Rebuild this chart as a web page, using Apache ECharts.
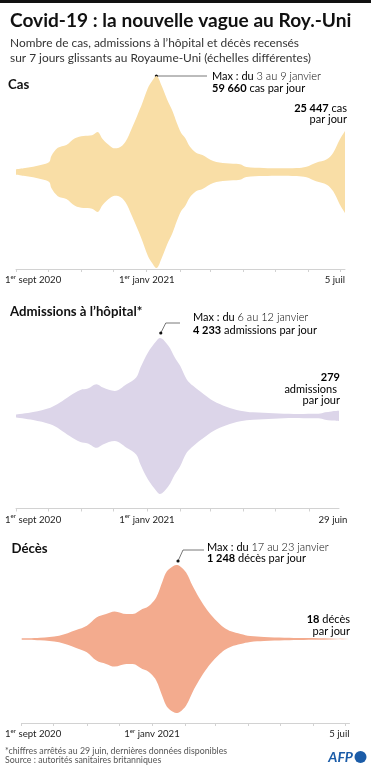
<!DOCTYPE html>
<html><head><meta charset="utf-8">
<script src="https://cdn.jsdelivr.net/npm/echarts@6/dist/echarts.min.js"></script>
<style>html,body{margin:0;padding:0;background:#fff}#c{width:371px;height:768px}</style>
</head><body><div id="c"></div>
<script>
// ---------- DATA ----------
const casDates = ['2020-09-01','2020-09-08','2020-09-17','2020-09-25','2020-10-02','2020-10-04','2020-10-10','2020-10-18','2020-10-26','2020-11-03','2020-11-11','2020-11-16','2020-11-21','2020-11-28','2020-12-02','2020-12-06','2020-12-12','2020-12-18','2020-12-23','2020-12-28','2021-01-02','2021-01-06','2021-01-10','2021-01-15','2021-01-20','2021-01-25','2021-01-29','2021-02-02','2021-02-06','2021-02-10','2021-02-16','2021-02-22','2021-03-04','2021-03-16','2021-03-29','2021-04-04','2021-04-20','2021-05-05','2021-05-21','2021-05-30','2021-06-08','2021-06-18','2021-06-24','2021-06-30','2021-07-05'];
const casValues = [1650,2300,3300,4550,6200,10000,15000,16800,21000,22400,22800,24800,20300,16000,14700,15000,18600,27000,34800,43000,52000,56500,59660,53400,45000,37900,30600,24400,21000,16000,12000,10500,6800,5400,4800,3100,2500,2300,2500,3300,5800,7900,12000,20000,25447];

const hospDates = ['2020-09-01','2020-09-17','2020-10-03','2020-10-12','2020-10-21','2020-10-31','2020-11-07','2020-11-15','2020-11-21','2020-12-02','2020-12-13','2020-12-22','2020-12-26','2021-01-02','2021-01-10','2021-01-13','2021-01-21','2021-01-27','2021-02-01','2021-02-07','2021-02-13','2021-02-23','2021-03-04','2021-03-16','2021-03-29','2021-04-10','2021-04-29','2021-05-18','2021-06-05','2021-06-10','2021-06-16','2021-06-22','2021-06-29'];
const hospValues = [80,218,454,727,1090,1417,1490,1726,1544,1363,1726,2090,2634,3452,4088,4233,3815,3180,2725,2000,1635,1180,818,508,290,200,145,109,127,120,200,250,279];

const decesDates = ['2020-09-01','2020-09-18','2020-10-06','2020-10-22','2020-11-01','2020-11-10','2020-11-19','2020-11-27','2020-12-08','2020-12-14','2020-12-23','2020-12-27','2020-12-31','2021-01-05','2021-01-11','2021-01-15','2021-01-21','2021-01-24','2021-01-27','2021-02-02','2021-02-08','2021-02-14','2021-02-20','2021-02-26','2021-03-04','2021-03-10','2021-03-16','2021-03-25','2021-04-03','2021-04-16','2021-05-05','2021-05-23','2021-06-11','2021-07-05'];
const decesValues = [11,22,56,151,224,364,420,465,420,420,504,532,588,700,980,1142,1232,1248,1232,1120,896,700,532,392,280,185,129,84,50,34,22,17,14,18];

const tickMonths = ['2020-09-01','2020-10-01','2020-11-01','2020-12-01','2021-01-01','2021-02-01','2021-03-01','2021-04-01','2021-05-01','2021-06-01','2021-07-01'];
const casPeak = ['2021-01-10', 59660];
const hospPeak = ['2021-01-13', 4233];
const decesPeak = ['2021-01-24', 1248];

// ---------- CHART ----------
const FONT = 'Lato';
const LBL = 9.6, SUP = 6.2;
const P = s => Date.UTC(+s.slice(0, 4), +s.slice(5, 7) - 1, +s.slice(8, 10));
const chart = echarts.init(document.getElementById('c'), null, {renderer: 'canvas'});

// width of the first tick label, used to shift it right so it starts near the page margin
const mctx = document.createElement('canvas').getContext('2d');
const mw = (t, s) => { mctx.font = s + 'px ' + FONT; return mctx.measureText(t).width; };
const firstW = mw('1', LBL) + mw('er', SUP) + mw(' sept 2020', LBL);

const COLORS = ['#F9DEA6', '#DCD5E9', '#F3AB8E'];
const panels = [
  {dates: casDates, values: casValues, end: '2021-07-05', endLabel: '5 juil', grid: {left: 16, right: 26, top: 76, height: 192}, offset: 1, endAlign: 'right'},
  {dates: hospDates, values: hospValues, end: '2021-06-29', endLabel: '29 juin', grid: {left: 16, right: 32, top: 338, height: 156}, offset: 14.5, endAlign: 'center'},
  {dates: decesDates, values: decesValues, end: '2021-07-05', endLabel: '5 juil', grid: {left: 21.7, right: 21.5, top: 565, height: 148}, offset: 10, endAlign: 'right'}
];

const grids = [], xAxes = [], yAxes = [], series = [];
panels.forEach((p, i) => {
  const vmax = Math.max(...p.values);
  const start = p.dates[0];
  const padL = Math.max(0, firstW - 2 * (p.grid.left - 5));
  const rich = {
    n: {fontFamily: FONT, fontSize: LBL, color: '#222', lineHeight: 12},
    s: {fontFamily: FONT, fontSize: SUP, color: '#222', lineHeight: 12, verticalAlign: 'top', padding: [0, 0, 3, 0]},
    nl: {fontFamily: FONT, fontSize: LBL, color: '#222', lineHeight: 12, padding: [0, 0, 0, padL]},
    nr: {fontFamily: FONT, fontSize: LBL, color: '#222', lineHeight: 12, padding: [0, 12, 0, 0]}
  };
  grids.push(Object.assign({containLabel: false, outerBoundsMode: 'none'}, p.grid));
  xAxes.push({
    type: 'value', gridIndex: i, min: P(start), max: P(p.end), offset: p.offset,
    axisLine: {show: true, onZero: false, lineStyle: {color: '#d2d2d2', width: 1}},
    axisTick: {show: true, length: 3, lineStyle: {color: '#d2d2d2'},
      customValues: tickMonths.map(P).filter(t => t <= P(p.end))},
    splitLine: {show: false},
    axisLabel: {
      customValues: [P(start), P('2021-01-01'), P(p.end)],
      margin: 5, hideOverlap: false, showMinLabel: true, showMaxLabel: true,
      alignMaxLabel: p.endAlign,
      formatter: v => {
        if (v === P(start)) return '{nl|1}{s|er}{n| sept 2020}';
        if (v === P('2021-01-01')) return '{n|1}{s|er}{n| janv 2021}';
        return p.endAlign === 'center' ? '{nr|' + p.endLabel + '}' : '{n|' + p.endLabel + '}';
      },
      rich: rich
    }
  });
  yAxes.push({type: 'value', gridIndex: i, min: -vmax, max: vmax, show: false, splitLine: {show: false}});
  [1, -1].forEach(sign => series.push({
    type: 'line', xAxisIndex: i, yAxisIndex: i,
    data: p.dates.map((d, k) => [P(d), sign * p.values[k]]), symbol: 'none', smooth: 0.35,
    lineStyle: {width: 0, opacity: 0}, areaStyle: {color: COLORS[i], opacity: 1, origin: 'auto'},
    silent: true, animation: false
  }));
});

chart.setOption({animation: false, grid: grids, xAxis: xAxes, yAxis: yAxes, series: series});

// ---------- ANNOTATIONS ----------
const txt = (x, y, text, richStyles, align) => ({
  type: 'text', x: x, y: y, silent: true,
  style: {text: text, rich: richStyles, align: align || 'left', verticalAlign: 'middle', fontFamily: FONT}
});
const R = {
  b: {fontFamily: FONT, fontSize: 11, fontWeight: 'bold', color: '#222'},
  m: {fontFamily: FONT, fontSize: 11, color: '#333'},
  l: {fontFamily: FONT, fontSize: 11, color: '#888', fontWeight: 300},
  r: {fontFamily: FONT, fontSize: 11, color: '#333'}
};
const px = (i, pt) => chart.convertToPixel({xAxisIndex: i, yAxisIndex: i}, [P(pt[0]), pt[1]]);
const c0 = px(0, casPeak), c1 = px(1, hospPeak), c2 = px(2, decesPeak);
const d1 = [c1[0] + 1, c1[1] - 5], d2 = [c2[0] + 1.5, c2[1] - 4];
const lineStyle = {stroke: '#555', lineWidth: 0.8, fill: null};
const head = (x, y, t) => ({type: 'text', x: x, y: y, silent: true, style: {text: t, fontFamily: FONT, fontSize: 13.2, fontWeight: 'bold', fill: '#111', verticalAlign: 'middle'}});

const graphics = [
  {type: 'rect', shape: {x: 0, y: 0, width: 371, height: 3}, style: {fill: '#111'}, silent: true},
  {type: 'text', x: 10, y: 21, silent: true, style: {text: 'Covid-19 : la nouvelle vague au Roy.-Uni', fontFamily: FONT, fontSize: 19.1, fontWeight: 'bold', fill: '#111', verticalAlign: 'middle'}},
  {type: 'text', x: 10, y: 43.5, silent: true, style: {text: 'Nombre de cas, admissions à l’hôpital et décès recensés', fontFamily: FONT, fontSize: 11.9, fill: '#333', verticalAlign: 'middle'}},
  {type: 'text', x: 10, y: 58.5, silent: true, style: {text: 'sur 7 jours glissants au Royaume-Uni (échelles différentes)', fontFamily: FONT, fontSize: 11.9, fill: '#333', verticalAlign: 'middle'}},

  head(8, 85, 'Cas'),
  head(10, 312, 'Admissions à l’hôpital*'),
  head(11.5, 549, 'Décès'),

  {type: 'polyline', shape: {points: [c0, [207, c0[1]]]}, style: lineStyle, silent: true},
  {type: 'circle', shape: {cx: c0[0], cy: c0[1], r: 1.6}, style: {fill: '#111'}, silent: true},
  txt(212, 76, '{m|Max : du }{l|3 au 9 janvier}', R),
  txt(212, 88, '{b|59 660}{r| cas par jour}', R),
  txt(347, 108, '{b|25 447}{r| cas}', R, 'right'),
  txt(347, 119.5, '{r|par jour}', R, 'right'),

  {type: 'polyline', shape: {points: [d1, [d1[0] + 5, d1[1] - 10], [180, d1[1] - 10]]}, style: lineStyle, silent: true},
  {type: 'circle', shape: {cx: d1[0], cy: d1[1], r: 1.6}, style: {fill: '#111'}, silent: true},
  txt(193, 317, '{m|Max : du }{l|6 au 12 janvier}', R),
  txt(193, 330.5, '{b|4 233}{r| admissions par jour}', R),
  txt(340, 377.5, '{b|279}', R, 'right'),
  txt(337, 389, '{r|admissions}', R, 'right'),
  txt(340, 400.5, '{r|par jour}', R, 'right'),

  {type: 'polyline', shape: {points: [d2, [d2[0] + 5, d2[1] - 11], [204, d2[1] - 11]]}, style: lineStyle, silent: true},
  {type: 'circle', shape: {cx: d2[0], cy: d2[1], r: 1.6}, style: {fill: '#111'}, silent: true},
  txt(207, 547, '{m|Max : du }{l|17 au 23 janvier}', R),
  txt(207, 558.5, '{b|1 248}{r| décès par jour}', R),
  txt(350, 619, '{b|18}{r| décès}', R, 'right'),
  txt(350, 631, '{r|par jour}', R, 'right'),

  {type: 'text', x: 5, y: 751, silent: true, style: {text: '*chiffres arrêtés au 29 juin, dernières données disponibles', fontFamily: FONT, fontSize: 8.8, fill: '#555', verticalAlign: 'middle'}},
  {type: 'text', x: 5, y: 760.5, silent: true, style: {text: 'Source : autorités sanitaires britanniques', fontFamily: FONT, fontSize: 8.8, fill: '#555', verticalAlign: 'middle'}},
  {type: 'text', x: 353, y: 757, silent: true, style: {text: 'AFP', fontFamily: FONT, fontSize: 14, fontWeight: 'bold', fontStyle: 'italic', fill: '#1B5CA8', align: 'right', verticalAlign: 'middle'}},
  {type: 'circle', shape: {cx: 360.5, cy: 757, r: 6}, style: {fill: '#1B5CA8'}, silent: true}
];
chart.setOption({graphic: graphics});
</script></body></html>
